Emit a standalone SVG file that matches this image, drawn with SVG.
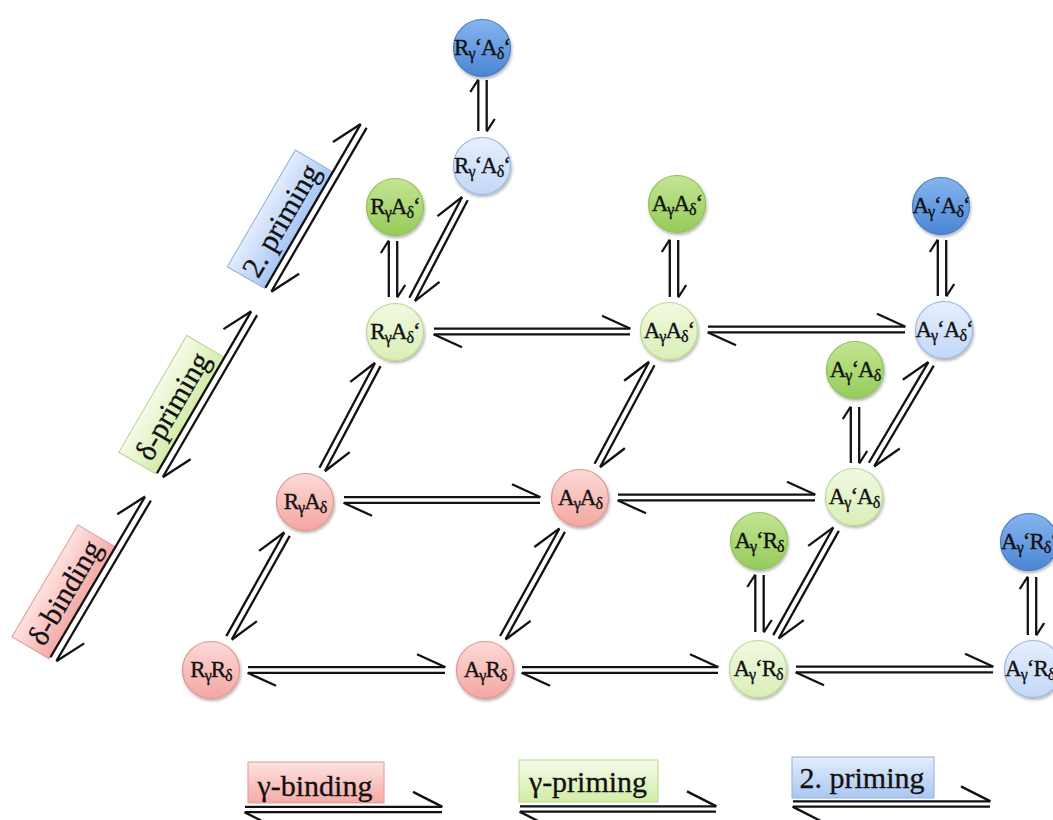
<svg xmlns="http://www.w3.org/2000/svg" width="1053" height="820" viewBox="0 0 1053 820">
<defs>
<style>
.nl{font-family:"Liberation Serif","Times New Roman",serif;font-size:23px;fill:#111;stroke:#111;stroke-width:0.35;text-anchor:middle;letter-spacing:-1px}
.s{font-size:16px}
.lt{font-family:"Liberation Serif","Times New Roman",serif;font-size:30px;fill:#111;stroke:#111;stroke-width:0.3;text-anchor:middle}
.eq line,.eqv line,.eql line{stroke:#111;stroke-width:2.3;fill:none}
.eq line{marker-end:url(#barb)}
.eqv line{marker-end:url(#barbS)}
.eql line{marker-end:url(#barbL)}
.node circle{stroke-width:1.2;filter:url(#sh)}
.red circle{fill:url(#gRed);stroke:#e0958f}
.lgr circle{fill:url(#gLg);stroke:#bcd893}
.grn circle{fill:url(#gGr);stroke:#8fc25a}
.lbl circle{fill:url(#gLb);stroke:#97b7e6}
.blu circle{fill:url(#gBl);stroke:#4a7cc6}
.box{stroke-width:1}
</style>
<linearGradient id="gRed" x1="0" y1="0" x2="0" y2="1"><stop offset="0" stop-color="#fcdad7"/><stop offset="1" stop-color="#f4a6a2"/></linearGradient>
<linearGradient id="gLg" x1="0" y1="0" x2="0" y2="1"><stop offset="0" stop-color="#f1f9e2"/><stop offset="1" stop-color="#d9efb6"/></linearGradient>
<linearGradient id="gGr" x1="0" y1="0" x2="0" y2="1"><stop offset="0" stop-color="#c3e593"/><stop offset="1" stop-color="#96cb5a"/></linearGradient>
<linearGradient id="gLb" x1="0" y1="0" x2="0" y2="1"><stop offset="0" stop-color="#e6effd"/><stop offset="1" stop-color="#c3d7f7"/></linearGradient>
<linearGradient id="gBl" x1="0" y1="0" x2="0" y2="1"><stop offset="0" stop-color="#86b5ee"/><stop offset="1" stop-color="#4a85d5"/></linearGradient>
<linearGradient id="bRed" x1="0" y1="0" x2="0" y2="1"><stop offset="0" stop-color="#fde3e1"/><stop offset="1" stop-color="#f5aaa6"/></linearGradient>
<linearGradient id="bGr" x1="0" y1="0" x2="0" y2="1"><stop offset="0" stop-color="#f5fbea"/><stop offset="1" stop-color="#d3eca8"/></linearGradient>
<linearGradient id="bBl" x1="0" y1="0" x2="0" y2="1"><stop offset="0" stop-color="#e4edfc"/><stop offset="1" stop-color="#a9c7f3"/></linearGradient>
<filter id="sh" x="-30%" y="-30%" width="160%" height="160%"><feDropShadow dx="1" dy="2" stdDeviation="1.5" flood-color="#000" flood-opacity="0.3"/></filter>
<marker id="barb" markerUnits="userSpaceOnUse" orient="auto" refX="0" refY="0" markerWidth="40" markerHeight="40" overflow="visible"><path d="M0.5,0 L-28,-13" fill="none" stroke="#111" stroke-width="2.3"/></marker>
<marker id="barbS" markerUnits="userSpaceOnUse" orient="auto" refX="0" refY="0" markerWidth="20" markerHeight="20" overflow="visible"><path d="M0.5,0 L-12,-8" fill="none" stroke="#111" stroke-width="2.3"/></marker>
<marker id="barbL" markerUnits="userSpaceOnUse" orient="auto" refX="0" refY="0" markerWidth="40" markerHeight="40" overflow="visible"><path d="M0.5,0 L-29,-15" fill="none" stroke="#111" stroke-width="2.3"/></marker>
</defs>

<g id="connectors">
<g class="eq" transform="translate(248,670)"><line x1="0" y1="-2.8" x2="197" y2="-2.8"/><line x1="197" y1="2.8" x2="0" y2="2.8"/></g>
<g class="eq" transform="translate(522,670)"><line x1="0" y1="-2.8" x2="196" y2="-2.8"/><line x1="196" y1="2.8" x2="0" y2="2.8"/></g>
<g class="eq" transform="translate(796,669.5)"><line x1="0" y1="-2.8" x2="197" y2="-2.8"/><line x1="197" y1="2.8" x2="0" y2="2.8"/></g>
<g class="eq" transform="translate(344,500)"><line x1="0" y1="-2.8" x2="196" y2="-2.8"/><line x1="196" y1="2.8" x2="0" y2="2.8"/></g>
<g class="eq" transform="translate(618,497.5)"><line x1="0" y1="-2.8" x2="197" y2="-2.8"/><line x1="197" y1="2.8" x2="0" y2="2.8"/></g>
<g class="eq" transform="translate(434,331.5)"><line x1="0" y1="-2.8" x2="196" y2="-2.8"/><line x1="196" y1="2.8" x2="0" y2="2.8"/></g>
<g class="eq" transform="translate(708,329.5)"><line x1="0" y1="-2.8" x2="197" y2="-2.8"/><line x1="197" y1="2.8" x2="0" y2="2.8"/></g>
<g class="eq" transform="translate(229.1,637.7) rotate(-60.78)"><line x1="0" y1="-3.2" x2="118.5" y2="-3.2"/><line x1="118.5" y1="3.2" x2="0" y2="3.2"/></g>
<g class="eq" transform="translate(322.3,469.3) rotate(-62.1)"><line x1="0" y1="-3.2" x2="118.4" y2="-3.2"/><line x1="118.4" y1="3.2" x2="0" y2="3.2"/></g>
<g class="eq" transform="translate(502.9,637.6) rotate(-61.1)"><line x1="0" y1="-3.2" x2="122.5" y2="-3.2"/><line x1="122.5" y1="3.2" x2="0" y2="3.2"/></g>
<g class="eq" transform="translate(597.4,465.3) rotate(-61.9)"><line x1="0" y1="-3.2" x2="115.2" y2="-3.2"/><line x1="115.2" y1="3.2" x2="0" y2="3.2"/></g>
<g class="eq" transform="translate(776,636.7) rotate(-60.8)"><line x1="0" y1="-3.2" x2="123" y2="-3.2"/><line x1="123" y1="3.2" x2="0" y2="3.2"/></g>
<g class="eq" transform="translate(871.6,464.4) rotate(-59.4)"><line x1="0" y1="-3.2" x2="116.7" y2="-3.2"/><line x1="116.7" y1="3.2" x2="0" y2="3.2"/></g>
<g class="eq" transform="translate(412.2,299.2) rotate(-62.35)"><line x1="0" y1="-3.2" x2="113.4" y2="-3.2"/><line x1="113.4" y1="3.2" x2="0" y2="3.2"/></g>
<g class="eqv" transform="translate(393,297) rotate(-90)"><line x1="0" y1="-4.2" x2="56" y2="-4.2"/><line x1="56" y1="4.2" x2="0" y2="4.2"/></g>
<g class="eqv" transform="translate(674,297) rotate(-90)"><line x1="0" y1="-4.2" x2="57" y2="-4.2"/><line x1="57" y1="4.2" x2="0" y2="4.2"/></g>
<g class="eqv" transform="translate(942,296) rotate(-90)"><line x1="0" y1="-4.2" x2="56" y2="-4.2"/><line x1="56" y1="4.2" x2="0" y2="4.2"/></g>
<g class="eqv" transform="translate(855,463) rotate(-90)"><line x1="0" y1="-4.2" x2="56" y2="-4.2"/><line x1="56" y1="4.2" x2="0" y2="4.2"/></g>
<g class="eqv" transform="translate(759.5,632) rotate(-90)"><line x1="0" y1="-4.2" x2="57" y2="-4.2"/><line x1="57" y1="4.2" x2="0" y2="4.2"/></g>
<g class="eqv" transform="translate(1032,635) rotate(-90)"><line x1="0" y1="-4.2" x2="58" y2="-4.2"/><line x1="58" y1="4.2" x2="0" y2="4.2"/></g>
<g class="eqv" transform="translate(482.5,131) rotate(-90)"><line x1="0" y1="-4.2" x2="51" y2="-4.2"/><line x1="51" y1="4.2" x2="0" y2="4.2"/></g>
</g>

<g id="n-RR" class="node red"><circle cx="211" cy="670" r="28.5"/><text class="nl" x="211" y="677">R<tspan class="s" dy="4">γ</tspan><tspan dy="-4">R</tspan><tspan class="s" dy="4">δ</tspan></text></g>
<g id="n-AR" class="node red"><circle cx="485" cy="670" r="28.5"/><text class="nl" x="485" y="677">A<tspan class="s" dy="4">γ</tspan><tspan dy="-4">R</tspan><tspan class="s" dy="4">δ</tspan></text></g>
<g id="n-RA" class="node red"><circle cx="305" cy="502" r="28.5"/><text class="nl" x="305" y="509">R<tspan class="s" dy="4">γ</tspan><tspan dy="-4">A</tspan><tspan class="s" dy="4">δ</tspan></text></g>
<g id="n-AA" class="node red"><circle cx="580" cy="498" r="28.5"/><text class="nl" x="580" y="505">A<tspan class="s" dy="4">γ</tspan><tspan dy="-4">A</tspan><tspan class="s" dy="4">δ</tspan></text></g>

<g id="n-ApR" class="node lgr"><circle cx="758" cy="669" r="28.5"/><text class="nl" x="758" y="676">A<tspan class="s" dy="4">γ</tspan><tspan dy="-4">‘R</tspan><tspan class="s" dy="4">δ</tspan></text></g>
<g id="n-ApA" class="node lgr"><circle cx="854" cy="497" r="28.5"/><text class="nl" x="854" y="504">A<tspan class="s" dy="4">γ</tspan><tspan dy="-4">‘A</tspan><tspan class="s" dy="4">δ</tspan></text></g>
<g id="n-RAp" class="node lgr"><circle cx="395" cy="332" r="28.5"/><text class="nl" x="395" y="339">R<tspan class="s" dy="4">γ</tspan><tspan dy="-4">A</tspan><tspan class="s" dy="4">δ</tspan><tspan dy="-4">‘</tspan></text></g>
<g id="n-AAp" class="node lgr"><circle cx="669" cy="331" r="28.5"/><text class="nl" x="669" y="338">A<tspan class="s" dy="4">γ</tspan><tspan dy="-4">A</tspan><tspan class="s" dy="4">δ</tspan><tspan dy="-4">‘</tspan></text></g>

<g id="n-ApRp" class="node lbl"><circle cx="1033" cy="669" r="28.5"/><text class="nl" x="1033" y="676">A<tspan class="s" dy="4">γ</tspan><tspan dy="-4">‘R</tspan><tspan class="s" dy="4">δ</tspan><tspan dy="-4">‘</tspan></text></g>
<g id="n-ApAp" class="node lbl"><circle cx="944" cy="330" r="28.5"/><text class="nl" x="944" y="337">A<tspan class="s" dy="4">γ</tspan><tspan dy="-4">‘A</tspan><tspan class="s" dy="4">δ</tspan><tspan dy="-4">‘</tspan></text></g>
<g id="n-RpAp" class="node lbl"><circle cx="482" cy="166" r="28.5"/><text class="nl" x="482" y="173">R<tspan class="s" dy="4">γ</tspan><tspan dy="-4">‘A</tspan><tspan class="s" dy="4">δ</tspan><tspan dy="-4">‘</tspan></text></g>

<g id="n-RAp-g" class="node grn"><circle cx="395" cy="207" r="28.5"/><text class="nl" x="395" y="214">R<tspan class="s" dy="4">γ</tspan><tspan dy="-4">A</tspan><tspan class="s" dy="4">δ</tspan><tspan dy="-4">‘</tspan></text></g>
<g id="n-AAp-g" class="node grn"><circle cx="677" cy="204" r="28.5"/><text class="nl" x="677" y="211">A<tspan class="s" dy="4">γ</tspan><tspan dy="-4">A</tspan><tspan class="s" dy="4">δ</tspan><tspan dy="-4">‘</tspan></text></g>
<g id="n-ApA-g" class="node grn"><circle cx="855" cy="370" r="28.5"/><text class="nl" x="855" y="377">A<tspan class="s" dy="4">γ</tspan><tspan dy="-4">‘A</tspan><tspan class="s" dy="4">δ</tspan></text></g>
<g id="n-ApR-g" class="node grn"><circle cx="759" cy="541" r="28.5"/><text class="nl" x="759" y="548">A<tspan class="s" dy="4">γ</tspan><tspan dy="-4">‘R</tspan><tspan class="s" dy="4">δ</tspan></text></g>

<g id="n-RpAp-b" class="node blu"><circle cx="482" cy="48" r="28.5"/><text class="nl" x="482" y="55">R<tspan class="s" dy="4">γ</tspan><tspan dy="-4">‘A</tspan><tspan class="s" dy="4">δ</tspan><tspan dy="-4">‘</tspan></text></g>
<g id="n-ApAp-b" class="node blu"><circle cx="941" cy="206" r="28.5"/><text class="nl" x="941" y="213">A<tspan class="s" dy="4">γ</tspan><tspan dy="-4">‘A</tspan><tspan class="s" dy="4">δ</tspan><tspan dy="-4">‘</tspan></text></g>
<g id="n-ApRp-b" class="node blu"><circle cx="1029" cy="542" r="28.5"/><text class="nl" x="1029" y="549">A<tspan class="s" dy="4">γ</tspan><tspan dy="-4">‘R</tspan><tspan class="s" dy="4">δ</tspan><tspan dy="-4">‘</tspan></text></g>

<g id="leg-dbinding" transform="translate(53.5,659) rotate(-59.5)">
<rect class="box" x="-2" y="-47" width="130" height="43" fill="url(#bRed)" stroke="#e09a96"/>
<text class="lt" x="63" y="-14">δ-binding</text>
<g class="eql"><line x1="0" y1="-3.5" x2="186" y2="-3.5"/><line x1="186" y1="3.5" x2="0" y2="3.5"/></g>
</g>
<g id="leg-dpriming" transform="translate(160,475) rotate(-59.8)">
<rect class="box" x="-1" y="-47" width="135" height="43" fill="url(#bGr)" stroke="#b5d58a"/>
<text class="lt" x="66" y="-14">δ-priming</text>
<g class="eql"><line x1="0" y1="-3.5" x2="187" y2="-3.5"/><line x1="187" y1="3.5" x2="0" y2="3.5"/></g>
</g>
<g id="leg-2priming-l" transform="translate(268.5,289.5) rotate(-59.8)">
<rect class="box" x="-1" y="-47" width="135" height="43" fill="url(#bBl)" stroke="#8fb0e2"/>
<text class="lt" x="66" y="-14">2. priming</text>
<g class="eql"><line x1="0" y1="-3.5" x2="189" y2="-3.5"/><line x1="189" y1="3.5" x2="0" y2="3.5"/></g>
</g>

<g id="leg-gbinding">
<rect class="box" x="248" y="762" width="136" height="41" fill="url(#bRed)" stroke="#e09a96"/>
<text class="lt" x="315" y="796">γ-binding</text>
<g class="eql" transform="translate(245,809.5)"><line x1="0" y1="-2.6" x2="197" y2="-2.6"/><line x1="197" y1="2.6" x2="0" y2="2.6"/></g>
</g>
<g id="leg-gpriming">
<rect class="box" x="519" y="760" width="139" height="42" fill="url(#bGr)" stroke="#b5d58a"/>
<text class="lt" x="588" y="792">γ-priming</text>
<g class="eql" transform="translate(520,809)"><line x1="0" y1="-2.6" x2="196" y2="-2.6"/><line x1="196" y1="2.6" x2="0" y2="2.6"/></g>
</g>
<g id="leg-2priming-b">
<rect class="box" x="792" y="757" width="142" height="41" fill="url(#bBl)" stroke="#8fb0e2"/>
<text class="lt" x="862" y="788">2. priming</text>
<g class="eql" transform="translate(793,804)"><line x1="0" y1="-2.6" x2="197" y2="-2.6"/><line x1="197" y1="2.6" x2="0" y2="2.6"/></g>
</g>
</svg>
